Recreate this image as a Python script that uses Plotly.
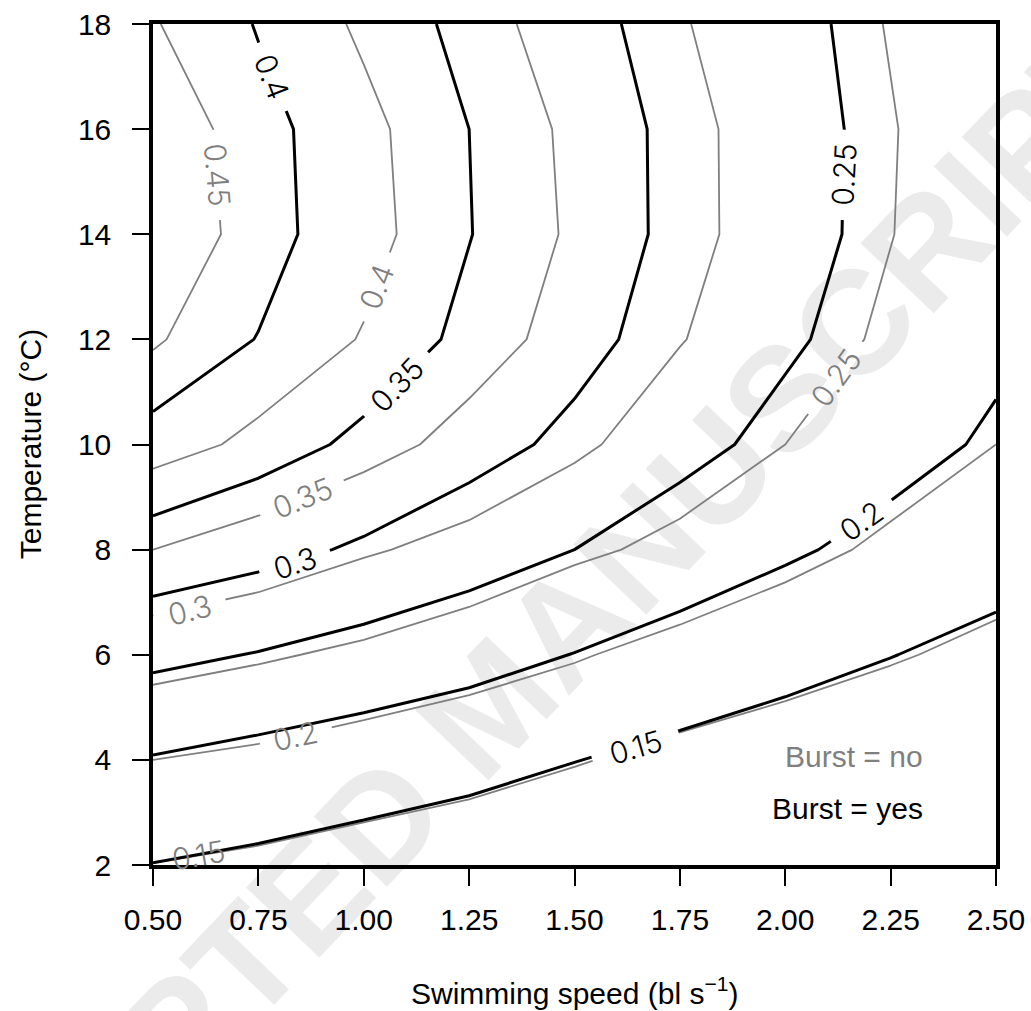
import math
import plotly.graph_objects as go

# Grid of the model surface (rows: temperature 2..18 °C, columns: swimming speed 0.5..2.5 bl/s)
speed = [0.5, 0.75, 1.0, 1.25, 1.5, 1.75, 2.0, 2.25, 2.5]
temp = [2, 4, 6, 8, 10, 12, 14, 16, 18]
speed_ticktext = ["0.50", "0.75", "1.00", "1.25", "1.50", "1.75", "2.00", "2.25", "2.50"]
temp_ticktext = ["2", "4", "6", "8", "10", "12", "14", "16", "18"]

burst_yes = [
    [0.149, 0.141, 0.132, 0.121, 0.110, 0.106, 0.104, 0.103, 0.102],
    [0.197, 0.185, 0.174, 0.165, 0.151, 0.138, 0.126, 0.117, 0.110],
    [0.261, 0.248, 0.232, 0.216, 0.199, 0.181, 0.166, 0.151, 0.137],
    [0.331, 0.314, 0.294, 0.272, 0.250, 0.227, 0.206, 0.187, 0.169],
    [0.390, 0.367, 0.342, 0.316, 0.290, 0.263, 0.238, 0.215, 0.194],
    [0.422, 0.399, 0.372, 0.342, 0.313, 0.282, 0.256, 0.231, 0.208],
    [0.438, 0.412, 0.380, 0.351, 0.321, 0.291, 0.264, 0.238, 0.214],
    [0.439, 0.410, 0.380, 0.350, 0.320, 0.291, 0.264, 0.239, 0.216],
    [0.432, 0.398, 0.370, 0.341, 0.312, 0.285, 0.260, 0.237, 0.216],
]
burst_no = [
    [0.149, 0.141, 0.133, 0.120, 0.108, 0.105, 0.103, 0.102, 0.101],
    [0.200, 0.190, 0.175, 0.168, 0.153, 0.138, 0.126, 0.115, 0.104],
    [0.270, 0.256, 0.241, 0.220, 0.204, 0.184, 0.169, 0.154, 0.139],
    [0.350, 0.330, 0.305, 0.286, 0.258, 0.240, 0.214, 0.192, 0.172],
    [0.415, 0.392, 0.366, 0.336, 0.309, 0.274, 0.250, 0.222, 0.200],
    [0.454, 0.423, 0.398, 0.368, 0.335, 0.302, 0.271, 0.243, 0.216],
    [0.470, 0.439, 0.410, 0.378, 0.345, 0.312, 0.280, 0.251, 0.223],
    [0.466, 0.438, 0.408, 0.376, 0.343, 0.311, 0.281, 0.252, 0.225],
    [0.452, 0.425, 0.395, 0.364, 0.333, 0.303, 0.275, 0.248, 0.224],
]

# contour labels: text, speed, temperature, angle (deg, clockwise), gap in line under it
yes_labels = [("0.4", 0.782, 16.99, 68.5, True), ("0.35", 1.078, 11.14, -46, True),
              ("0.3", 0.837, 7.755, -18, True), ("0.25", 2.139, 15.13, -87, True),
              ("0.2", 2.181, 8.545, -35.5, True), ("0.15", 1.645, 4.25, -16, True)]
no_labels = [("0.45", 0.653, 15.13, 85, True), ("0.4", 1.030, 13.0, -69, True),
             ("0.35", 0.854, 8.976, -22, True), ("0.3", 0.588, 6.85, -14, True),
             ("0.25", 2.12, 11.26, -54, True), ("0.2", 0.839, 4.46, -12, True),
             ("0.15", 0.609, 2.19, -10, False)]

GRAY = "#7f7f7f"
FONT = "Liberation Sans, Arial, Helvetica, sans-serif"
LABEL_FONT = "Inter, Roboto, Liberation Sans, sans-serif"
LABEL_SIZE = 30

fig = go.Figure()

# faint "ACCEPTED MANUSCRIPT" watermark of the source page, drawn beneath the chart
fig.add_shape(type="line", xref="paper", yref="paper", x0=0.142, y0=-0.056, x1=0.633, y1=0.460,
              line=dict(width=0, color="rgba(0,0,0,0)"), layer="below",
              label=dict(text="ACCEPTED MANUSCRIPT", textposition="middle", yanchor="middle",
                         font=dict(family=FONT, size=147, color="#ebebeb", weight="bold")))

for z, color, width in [(burst_no, GRAY, 1.8), (burst_yes, "black", 3.0)]:
    fig.add_trace(go.Contour(
        x=speed, y=temp, z=z,
        contours=dict(coloring="none", start=0.1, end=0.5, size=0.05, showlabels=False),
        line=dict(color=color, width=width, smoothing=0),
        showscale=False, hoverinfo="skip"))


def gap_path(n_chars, angle, height=12):
    length = (1.39 if n_chars == 3 else 1.946) * LABEL_SIZE + 32
    t = math.radians(angle)
    dx, dy = math.cos(t), -math.sin(t)
    nx, ny = math.sin(t), math.cos(t)
    a, h = length / 2, height / 2
    pts = [(a * dx + h * nx, a * dy + h * ny), (a * dx - h * nx, a * dy - h * ny),
           (-a * dx - h * nx, -a * dy - h * ny), (-a * dx + h * nx, -a * dy + h * ny)]
    return "M" + " L".join(f"{px:.2f},{py:.2f}" for px, py in pts) + " Z"


for labels, color in ((no_labels, GRAY), (yes_labels, "black")):
    for txt, sx, ty, ang, gap in labels:
        if gap:
            fig.add_shape(type="path", xref="x", yref="y", xsizemode="pixel", ysizemode="pixel",
                          xanchor=sx, yanchor=ty, path=gap_path(len(txt), ang),
                          fillcolor="white", line=dict(width=0), layer="above")
        fig.add_annotation(x=sx, y=ty, xref="x", yref="y", text=txt, showarrow=False,
                           textangle=ang, xanchor="center", yanchor="middle",
                           font=dict(family=LABEL_FONT, size=LABEL_SIZE, color=color, weight=300))

# legend text
fig.add_annotation(x=2.332, y=4.07, xref="x", yref="y", text="Burst = no", showarrow=False,
                   xanchor="right", yanchor="middle", font=dict(family=FONT, size=30, color=GRAY))
fig.add_annotation(x=2.332, y=3.07, xref="x", yref="y", text="Burst = yes", showarrow=False,
                   xanchor="right", yanchor="middle", font=dict(family=FONT, size=30, color="black"))

# axis titles
fig.add_annotation(x=0.5, y=-0.1498, xref="paper", yref="paper", text="Swimming speed (bl s<sup>\u22121</sup>)",
                   showarrow=False, xanchor="center", yanchor="middle",
                   font=dict(family=FONT, size=30, color="black"))
fig.add_annotation(x=-0.145, y=0.5, xref="paper", yref="paper", text="Temperature (\u00b0C)",
                   showarrow=False, xanchor="center", yanchor="middle", textangle=-90,
                   font=dict(family=FONT, size=30, color="black"))

fig.update_layout(width=1031, height=1011, margin=dict(l=153, r=35, t=24, b=146, autoexpand=False),
                  plot_bgcolor="rgba(0,0,0,0)", paper_bgcolor="white", showlegend=False,
                  font=dict(family=FONT, size=30, color="black"))
axis_common = dict(showgrid=False, zeroline=False, showline=True, mirror=True, linecolor="black",
                   linewidth=3.5, ticks="outside", ticklen=17, tickwidth=2, tickcolor="black",
                   automargin=False, tickfont=dict(family=FONT, size=30, color="black"))
fig.update_xaxes(range=[0.5, 2.5], tickvals=speed, ticktext=speed_ticktext, ticklabelstandoff=8, **axis_common)
fig.update_yaxes(range=[2, 18], tickvals=temp, ticktext=temp_ticktext, ticklabelstandoff=15, **axis_common)

fig.write_html("out.html", config={"displayModeBar": False},
               post_script="document.body.style.margin='0';")
